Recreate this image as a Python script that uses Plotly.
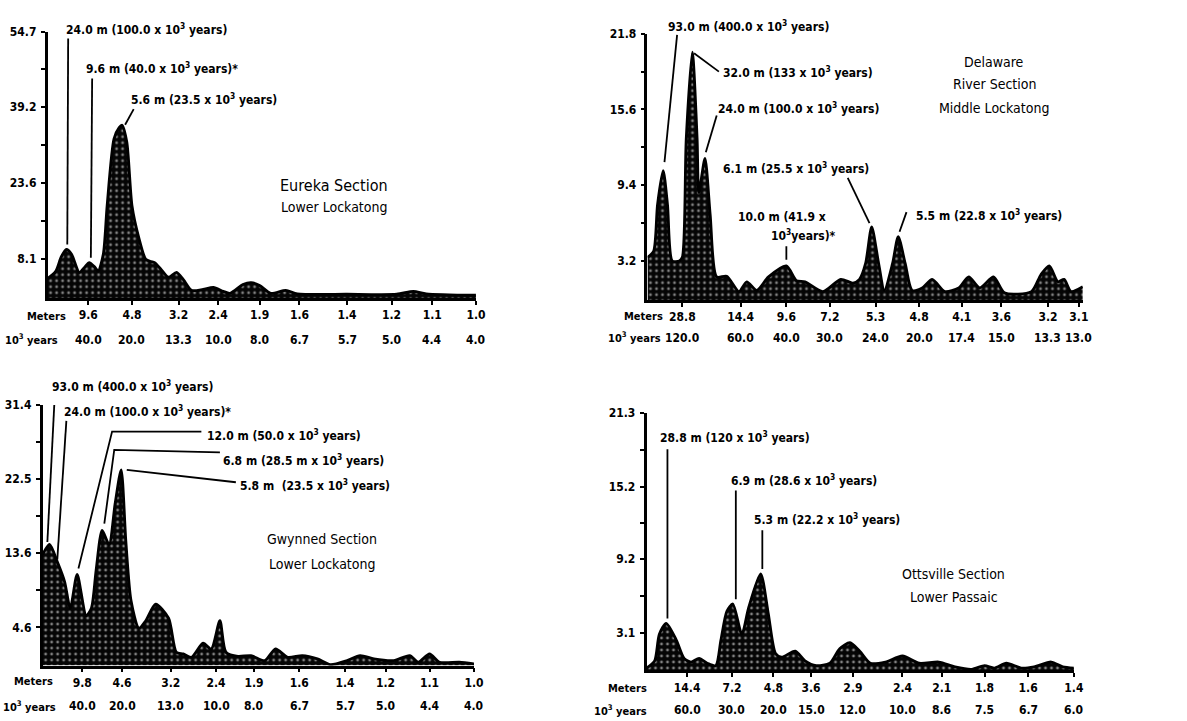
import plotly.graph_objects as go

W, H = 1187, 721

# ---------------- data (frequency-bin index 0-100 across each panel, spectral power) -------------
eureka_x = [0, 1.9, 3.2, 4.4, 5.6, 7.4, 8.8, 9.7, 10.9, 11.8, 13.0, 13.9, 15.5, 16.7, 17.4, 18.5, 19.7,
            21.3, 22.9, 24.1, 25.0, 26.4, 28.2, 30.1, 31.7, 33.6, 36.3, 38.7, 41.0, 42.6, 45.6, 47.5,
            49.5, 52.1, 55.6, 58.3, 69.9, 81.5, 85.4, 88.4, 100]
eureka_y = [4.0, 5.5, 8.5, 10.0, 9.0, 5.3, 6.5, 7.3, 6.5, 5.5, 9.0, 19.0, 32.7, 35.0, 35.5, 32.0, 19.0,
            12.4, 8.0, 7.5, 7.3, 6.0, 4.3, 5.3, 3.8, 1.6, 1.8, 2.2, 1.4, 1.0, 2.8, 3.2,
            2.6, 1.0, 1.6, 0.9, 0.8, 0.8, 1.4, 0.9, 0.6]

delaware_x = [0, 1.4, 2.3, 3.6, 4.6, 5.7, 7.3, 8.0, 8.9, 10.3, 11.4, 11.8, 13.2, 14.4, 15.9, 18.2, 21.0,
              22.8, 25.1, 27.8, 31.9, 34.2, 36.2, 40.3, 44.4, 47.2, 48.7, 50.1, 51.5, 53.1, 54.4, 56.3,
              57.6, 59.2, 60.8, 63.1, 65.4, 68.3, 71.5, 73.8, 76.3, 79.5, 82.0, 88.2, 90.4, 92.3, 94.3,
              95.7, 97.3, 100]
delaware_y = [3.5, 4.0, 7.8, 10.6, 7.8, 3.2, 3.2, 3.5, 13.2, 20.3, 13.2, 8.8, 11.6, 7.0, 1.9, 1.95, 0.7,
              1.5, 0.8, 1.9, 2.8, 1.6, 1.5, 0.7, 1.7, 1.4, 1.7, 3.0, 6.0, 3.0, 0.8, 3.0,
              5.2, 3.0, 0.8, 1.0, 1.7, 0.7, 1.0, 1.9, 1.0, 1.9, 0.6, 0.7, 2.1, 2.8, 1.5,
              1.7, 0.7, 1.1]

gwynned_x = [0, 1.6, 3.4, 5.1, 6.4, 8.0, 10.1, 11.3, 12.4, 13.8, 15.4, 16.8, 18.2, 19.3, 20.5, 22.3,
             23.9, 26.2, 29.2, 31.0, 32.6, 34.5, 37.2, 39.1, 41.1, 42.5, 45.3, 48.3, 51.5, 54.0, 56.8,
             60.2, 63.7, 66.7, 70.6, 73.6, 76.8, 81.4, 85.1, 87.1, 89.7, 92.0, 96.6, 100]
gwynned_y = [13.4, 14.6, 12.5, 10.1, 6.9, 11.0, 6.0, 6.9, 11.5, 16.3, 14.6, 19.5, 23.6, 14.9, 7.8, 4.5,
             5.4, 7.4, 5.7, 1.6, 1.4, 1.0, 2.7, 2.0, 5.4, 1.6, 1.1, 1.2, 0.6, 2.0, 1.0,
             1.2, 0.8, 0.1, 0.6, 1.2, 0.8, 0.6, 1.2, 0.4, 1.4, 0.4, 0.4, 0.2]

ottsville_x = [0, 1.9, 3.0, 4.6, 7.0, 8.8, 10.4, 12.3, 14.2, 16.2, 17.4, 18.8, 20.2, 22.3, 23.9, 26.7,
               28.5, 30.2, 31.6, 34.8, 37.1, 39.7, 42.9, 45.2, 47.6, 49.9, 52.4, 55.9, 59.9, 63.8, 68.4,
               72.2, 76.1, 79.1, 81.4, 84.2, 87.7, 90.7, 94.7, 97.4, 100]
ottsville_y = [0.2, 0.8, 3.0, 3.9, 2.5, 1.0, 0.7, 1.0, 0.6, 0.4, 2.5, 4.9, 5.5, 3.0, 5.2, 8.0,
               4.7, 1.4, 1.1, 1.6, 0.8, 0.4, 0.6, 1.8, 2.3, 1.6, 0.6, 0.7, 1.2, 0.6, 0.7,
               0.3, 0.1, 0.4, 0.2, 0.6, 0.2, 0.3, 0.7, 0.3, 0.2]

# tick positions (bin index) and labels
eureka_tick_pos = [9.5, 19.7, 30.6, 39.8, 49.5, 58.8, 69.9, 80.3, 89.8, 100]
eureka_meters = ["9.6", "4.8", "3.2", "2.4", "1.9", "1.6", "1.4", "1.2", "1.1", "1.0"]
eureka_years = ["40.0", "20.0", "13.3", "10.0", "8.0", "6.7", "5.7", "5.0", "4.4", "4.0"]

delaware_tick_pos = [8.0, 21.4, 31.9, 41.9, 52.4, 62.4, 72.2, 81.3, 92.0, 99.1]
delaware_meters = ["28.8", "14.4", "9.6", "7.2", "5.3", "4.8", "4.1", "3.6", "3.2", "3.1"]
delaware_years = ["120.0", "60.0", "40.0", "30.0", "24.0", "20.0", "17.4", "15.0", "13.3", "13.0"]

gwynned_tick_pos = [9.2, 18.4, 29.7, 40.2, 49.0, 59.5, 70.1, 79.5, 89.7, 100]
gwynned_meters = ["9.8", "4.6", "3.2", "2.4", "1.9", "1.6", "1.4", "1.2", "1.1", "1.0"]
gwynned_years = ["40.0", "20.0", "13.0", "10.0", "8.0", "6.7", "5.7", "5.0", "4.4", "4.0"]

ottsville_tick_pos = [9.5, 20.0, 29.7, 38.5, 48.3, 59.9, 69.1, 79.1, 89.3, 100]
ottsville_meters = ["14.4", "7.2", "4.8", "3.6", "2.9", "2.4", "2.1", "1.8", "1.6", "1.4"]
ottsville_years = ["60.0", "30.0", "20.0", "15.0", "12.0", "10.0", "8.6", "7.5", "6.7", "6.0"]

eureka_yticks = [8.1, 23.6, 39.2, 54.7]
eureka_yminor = [15.85, 31.4, 46.95]
delaware_yticks = [3.2, 9.4, 15.6, 21.8]
delaware_yminor = [6.3, 12.5, 18.7]
gwynned_yticks = [4.6, 13.6, 22.5, 31.4]
gwynned_yminor = [9.1, 18.05, 26.95]
ottsville_yticks = [3.1, 9.2, 15.2, 21.3]
ottsville_yminor = [6.15, 12.2, 18.25]

S = "10<sup>3</sup>"
eureka_labels = [(3.9, 55.3, f"24.0 m (100.0 x {S} years)"),
                 (8.6, 47.2, f"9.6 m (40.0 x {S} years)*"),
                 (19.0, 40.9, f"5.6 m (23.5 x {S} years)")]
eureka_leaders = [[(4.8, 53.3), (4.6, 11.0)], [(10.4, 45.1), (10.1, 8.3)], [(20.1, 38.8), (18.1, 35.6)]]

delaware_labels = [(4.3, 22.4, f"93.0 m (400.0 x {S} years)"),
                   (16.9, 18.7, f"32.0 m (133 x {S} years)"),
                   (15.7, 15.7, f"24.0 m (100.0 x {S} years)"),
                   (16.9, 10.8, f"6.1 m (25.5 x {S} years)"),
                   (20.3, 6.8, "10.0 m (41.9 x"),
                   (27.8, 5.3, f"{S}years)*"),
                   (61.3, 7.0, f"5.5 m (22.8 x {S} years)")]
delaware_leaders = [[(6.8, 21.7), (3.9, 11.3)], [(10.7, 20.2), (16.4, 18.7)], [(15.9, 15.1), (13.4, 12.1)],
                    [(46.0, 10.0), (51.0, 6.3)], [(31.9, 4.4), (31.9, 3.3)], [(59.5, 7.2), (57.9, 5.6)]]

gwynned_labels = [(1.6, 33.7, f"93.0 m (400.0 x {S} years)"),
                  (4.4, 30.7, f"24.0 m (100.0 x {S} years)*"),
                  (37.7, 27.8, f"12.0 m (50.0 x {S} years)"),
                  (41.4, 24.8, f"6.8 m (28.5 m x {S} years)"),
                  (45.3, 21.8, f"5.8 m  (23.5 x {S} years)")]
gwynned_leaders = [[(2.8, 32.5), (1.1, 14.9)], [(5.5, 29.5), (3.4, 12.8)],
                   [(36.8, 28.2), (16.1, 28.2), (8.3, 11.7)],
                   [(41.1, 25.7), (16.6, 26.0), (14.3, 17.1)],
                   [(44.8, 22.1), (19.5, 23.6)]]

ottsville_labels = [(2.6, 19.3, f"28.8 m (120 x {S} years)"),
                    (19.3, 15.8, f"6.9 m (28.6 x {S} years)"),
                    (24.6, 12.5, f"5.3 m (22.2 x {S} years)")]
ottsville_leaders = [[(4.9, 18.3), (4.9, 4.3)], [(20.9, 14.9), (20.9, 5.9)], [(27.1, 11.6), (27.1, 8.4)]]

titles = {
    1: [("Eureka Section", 66.9, 23.2, 16), ("Lower Lockatong", 66.9, 18.7, 14)],
    2: [("Delaware", 79.7, 19.5, 14), ("River Section", 79.7, 17.7, 14), ("Middle Lockatong", 79.7, 15.7, 14)],
    3: [("Gwynned Section", 64.8, 15.2, 14), ("Lower Lockatong", 64.8, 12.3, 14)],
    4: [("Ottsville Section", 71.9, 8.0, 14), ("Lower Passaic", 71.9, 6.1, 14)],
}

# ---------------- layout geometry (pixels) ----------------
# (left, right, top, baseline, years_row_y, meters_label_right, years_label_left)
geom = {
    1: (48, 480, 25, 294, 336, 69, 3),
    2: (653, 1092, 27, 296, 334, 671, 611),
    3: (43, 478, 402, 665, 706, 55, 1),
    4: (652, 1083, 410, 670, 710, 655, 597),
}
meters_dy = {1: 19, 2: 17, 3: 16, 4: 18}

panels = {
    1: (eureka_x, eureka_y, eureka_tick_pos, eureka_meters, eureka_years, eureka_yticks, eureka_yminor,
        eureka_labels, eureka_leaders),
    2: (delaware_x, delaware_y, delaware_tick_pos, delaware_meters, delaware_years, delaware_yticks,
        delaware_yminor, delaware_labels, delaware_leaders),
    3: (gwynned_x, gwynned_y, gwynned_tick_pos, gwynned_meters, gwynned_years, gwynned_yticks,
        gwynned_yminor, gwynned_labels, gwynned_leaders),
    4: (ottsville_x, ottsville_y, ottsville_tick_pos, ottsville_meters, ottsville_years, ottsville_yticks,
        ottsville_yminor, ottsville_labels, ottsville_leaders),
}

FONT = "DejaVu Sans Condensed"
BOLD = dict(family=FONT, size=12, color="black", weight="bold")
ROW = dict(family=FONT, size=11, color="black", weight="bold")

fig = go.Figure()
layout = dict(width=W, height=H, margin=dict(l=0, r=0, t=0, b=0),
              paper_bgcolor="white", plot_bgcolor="rgba(0,0,0,0)", showlegend=False,
              annotations=[], shapes=[])

for n, (xs, ys, tpos, mlab, ylab, yt, ymin, labels, leaders) in panels.items():
    left, right, top, base, yrow, mx, yx = geom[n]
    xa = "x" if n == 1 else f"x{n}"
    ya = "y" if n == 1 else f"y{n}"
    ymax = yt[-1]
    y0p, y1p = 1 - base / H, 1 - top / H

    def ypaper(v):
        return y0p + v / ymax * (y1p - y0p)

    fig.add_trace(go.Scatter(
        x=xs, y=ys, xaxis=xa, yaxis=ya, mode="lines",
        line=dict(color="black", width=2.8, shape="spline", smoothing=0.7),
        fill="tozeroy",
        fillpattern=dict(shape=".", bgcolor="#050505", fgcolor="#ffffff", size=6, solidity=0.18),
        hoverinfo="skip"))
    tick_common = dict(showgrid=False, zeroline=False, showline=True, linecolor="black", linewidth=2.5,
                       ticks="outside", ticklen=4, tickwidth=2, tickcolor="black", tickfont=BOLD)
    layout["xaxis" if n == 1 else f"xaxis{n}"] = dict(
        domain=[left / W, right / W], anchor=ya, range=[0, 100],
        tickvals=tpos, ticktext=mlab, ticklabelstandoff=0, **tick_common)
    layout["yaxis" if n == 1 else f"yaxis{n}"] = dict(
        domain=[y0p, y1p], anchor=xa, range=[0, ymax],
        tickvals=yt, ticktext=[f"{v:.1f}" for v in yt], ticklabelstandoff=2,
        minor=dict(tickvals=ymin, ticks="outside", ticklen=4, tickwidth=2, tickcolor="black"),
        **tick_common)
    # second row of tick labels (10^3 years)
    for p, t in zip(tpos, ylab):
        layout["annotations"].append(dict(x=p, xref=xa, y=1 - yrow / H, yref="paper", text=t,
                                          showarrow=False, font=BOLD, xanchor="center", yanchor="middle"))
    layout["annotations"].append(dict(x=mx / W, xref="paper", y=1 - (base + meters_dy[n]) / H,
                                      yref="paper", text="Meters", showarrow=False, font=ROW,
                                      xanchor="right", yanchor="middle"))
    layout["annotations"].append(dict(x=yx / W, xref="paper", y=1 - yrow / H, yref="paper",
                                      text=f"{S} years", showarrow=False, font=ROW, xanchor="left",
                                      yanchor="middle"))
    for lx, ly, t in labels:
        layout["annotations"].append(dict(x=lx, xref=xa, y=ypaper(ly), yref="paper", text=t,
                                          showarrow=False, font=BOLD, xanchor="left", yanchor="middle"))
    for pts in leaders:
        path = "M " + " L ".join(f"{px},{py}" for px, py in pts)
        layout["shapes"].append(dict(type="path", path=path, xref=xa, yref=ya,
                                     line=dict(color="black", width=1.8)))
    for t, tx, ty, fs in titles[n]:
        layout["annotations"].append(dict(x=tx, xref=xa, y=ypaper(ty), yref="paper", text=t,
                                          showarrow=False, font=dict(family=FONT, size=fs, color="black"),
                                          xanchor="center", yanchor="middle"))

fig.update_layout(**layout)
fig.write_html("out.html")
